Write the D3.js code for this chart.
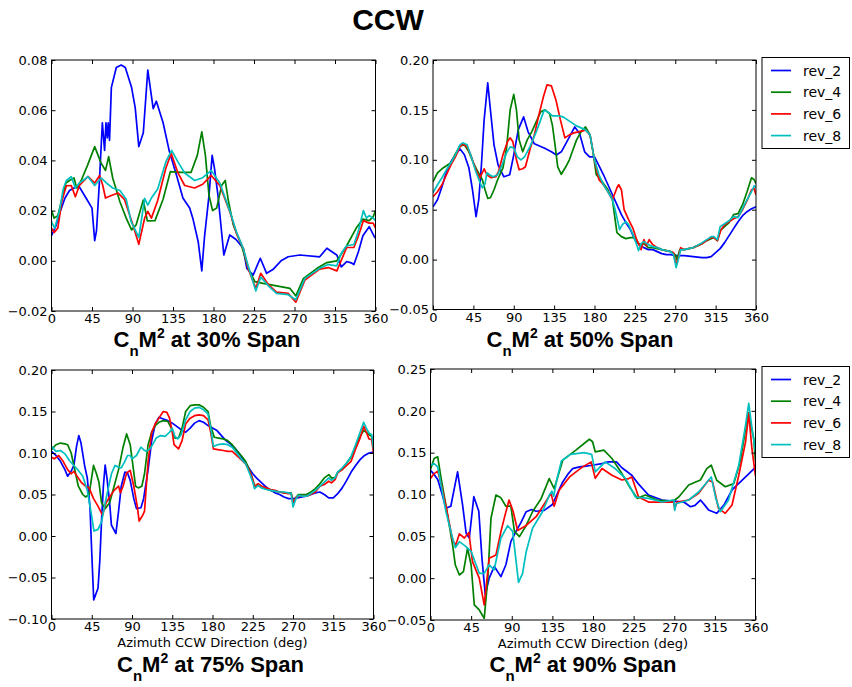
<!DOCTYPE html>
<html><head><meta charset="utf-8">
<script src="https://cdn.jsdelivr.net/npm/d3@7"></script>
<style>body{margin:0;background:#fff}svg{display:block}</style>
</head><body>
<svg id="chart" width="852" height="687"></svg>
<script>
// ---------------- DATA ----------------
const seriesNames = ["rev_2","rev_4","rev_6","rev_8"];
const seriesColors = ["#0000ff","#008000","#ff0000","#00bfbf"];
const xTicks = [0,45,90,135,180,225,270,315,360];
const yTicks30 = [-0.02,0.00,0.02,0.04,0.06,0.08];
const yTicks50 = [-0.05,0.00,0.05,0.10,0.15,0.20];
const yTicks75 = [-0.10,-0.05,0.00,0.05,0.10,0.15,0.20];
const yTicks90 = [-0.05,0.00,0.05,0.10,0.15,0.20,0.25];
const spanLabels = ["30%","50%","75%","90%"];
const figTitle = "CCW";
const xAxisLabel = "Azimuth CCW Direction (deg)";

// [azimuth deg, CnM^2]
const span30_rev2 = [[0,0.010],[5,0.014],[10,0.020],[15,0.025],[20,0.028],[25,0.029],[30,0.030],[35,0.027],[40,0.024],[45,0.021],[48,0.008],[50,0.012],[53,0.030],[56.5,0.055],[59,0.044],[60.5,0.055],[62,0.049],[63,0.055],[64.5,0.048],[66.5,0.069],[72,0.077],[77.5,0.078],[82,0.077],[89,0.069],[93,0.061],[97,0.0455],[102,0.051],[107,0.076],[113,0.0606],[116.5,0.0636],[124,0.055],[131,0.0435],[139,0.034],[146,0.025],[153.5,0.021],[157,0.017],[163,0.0076],[167,-0.004],[170,0.0095],[175,0.026],[178.5,0.042],[181,0.037],[185,0.026],[191.5,0.0023],[198,0.0103],[205,0.0085],[213,0.005],[217,-0.003],[224,-0.0057],[232,0.001],[239,-0.005],[246,-0.0035],[255,0.000],[263,0.0016],[276,0.0023],[298,0.0016],[306,0.005],[312,0.0035],[317,0.0023],[322,-0.0024],[328,-0.0003],[333,-0.0008],[336,-0.0015],[341,0.0036],[346,0.010],[353,0.0136],[358.7,0.0096],[360,0.009]];
const span30_rev4 = [[0,0.020],[3,0.017],[7,0.018],[12,0.025],[16,0.031],[20,0.032],[25,0.033],[28,0.029],[33,0.032],[40,0.038],[48,0.0455],[55,0.039],[60,0.036],[63.5,0.0415],[68,0.033],[76,0.0235],[83,0.017],[89,0.0123],[94,0.0143],[102,0.0242],[106.5,0.0159],[115,0.016],[124,0.0245],[132,0.0355],[144,0.0352],[155,0.0352],[162,0.042],[167,0.0514],[171,0.042],[175,0.026],[179,0.020],[183.5,0.021],[189,0.030],[193,0.032],[196.5,0.024],[202,0.0143],[211,0.0063],[218.5,-0.003],[226,-0.0083],[235,-0.009],[250,-0.010],[265,-0.011],[271.5,-0.014],[280,-0.007],[295,-0.003],[306,-0.0007],[317,0.000],[328,0.006],[339,0.0133],[346,0.0166],[353,0.016],[357.5,0.0176],[360,0.020]];
const span30_rev6 = [[0,0.013],[3,0.0113],[7,0.013],[11.5,0.0238],[16.5,0.0299],[22,0.030],[26.5,0.0255],[31,0.030],[40.5,0.0336],[48,0.031],[53.5,0.034],[57,0.030],[60,0.025],[66.5,0.026],[74,0.027],[81,0.0245],[90.5,0.0143],[97,0.0066],[103.5,0.017],[107,0.0197],[111,0.017],[118,0.024],[127,0.0369],[133,0.0428],[140.5,0.035],[148,0.030],[159,0.029],[168,0.0305],[177.5,0.034],[187,0.030],[198,0.0197],[206,0.0104],[213,0.005],[218.5,-0.003],[227,-0.011],[232.5,-0.005],[241,-0.0095],[250,-0.0125],[263,-0.013],[271.5,-0.0165],[281.5,-0.0077],[298,-0.0033],[307.5,-0.0027],[317,-0.004],[328,0.0053],[336,0.0053],[341,0.0099],[346.5,0.016],[353,0.015],[357.5,0.015],[360,0.013]];
const span30_rev8 = [[0,0.0156],[3.5,0.013],[9,0.020],[13,0.0286],[16.5,0.032],[22,0.0335],[26.5,0.029],[31,0.031],[40.5,0.0335],[48,0.030],[55,0.033],[61,0.031],[68,0.029],[76,0.028],[83,0.0245],[88.5,0.0156],[97,0.0093],[103.5,0.0249],[107,0.0222],[111,0.025],[118,0.0286],[127,0.0394],[133.5,0.044],[140.5,0.0394],[148,0.035],[159,0.032],[168,0.0331],[177.5,0.036],[187,0.031],[198,0.020],[206,0.011],[213,0.005],[218.5,-0.002],[227,-0.012],[232.5,-0.0065],[241,-0.010],[250,-0.013],[263,-0.0135],[271.5,-0.0155],[281.5,-0.007],[298,-0.003],[307.5,-0.0015],[317,-0.002],[322,0.003],[328,0.006],[336,0.0065],[341,0.012],[346.5,0.020],[350,0.017],[353,0.018],[357.5,0.017],[360,0.016]];

const span50_rev2 = [[0,0.053],[5,0.060],[10,0.073],[15,0.088],[20,0.098],[25,0.105],[30,0.111],[35,0.105],[40,0.092],[44,0.070],[48,0.043],[51,0.060],[54,0.095],[57,0.140],[61,0.177],[64,0.150],[68,0.115],[72.5,0.095],[79,0.083],[85.5,0.085],[90,0.105],[95,0.130],[101,0.143],[106,0.128],[113,0.116],[124.5,0.1115],[132,0.108],[137.5,0.1048],[143,0.108],[148.5,0.117],[158,0.133],[163.5,0.126],[169,0.108],[174.5,0.103],[180,0.103],[184,0.096],[190,0.085],[195,0.075],[200,0.065],[205,0.055],[210,0.045],[215,0.037],[220,0.030],[225,0.020],[230,0.015],[235,0.012],[240,0.010],[245,0.010],[250,0.008],[255,0.006],[260,0.005],[265,0.005],[270,0.004],[280,0.004],[290,0.003],[300,0.002],[305,0.002],[310,0.003],[315,0.007],[320,0.011],[325,0.017],[330,0.024],[335,0.031],[340,0.038],[345,0.044],[350,0.048],[355,0.051],[360,0.053]];
const span50_rev4 = [[0,0.078],[5,0.087],[10,0.091],[15,0.094],[20,0.097],[25,0.106],[30,0.114],[35,0.115],[40,0.108],[45,0.097],[50,0.088],[55,0.080],[58,0.070],[61,0.0614],[64,0.062],[68,0.070],[72,0.080],[78,0.092],[82,0.112],[86,0.150],[90,0.1656],[93,0.150],[96,0.120],[100,0.108],[105,0.120],[110,0.128],[115,0.138],[120,0.148],[125,0.150],[130,0.146],[133,0.135],[136,0.115],[139,0.093],[143,0.0855],[148,0.093],[152,0.100],[156,0.110],[160,0.120],[165,0.128],[170,0.133],[175,0.125],[178,0.110],[182,0.085],[187,0.080],[195,0.070],[200,0.060],[203,0.040],[205,0.027],[210,0.023],[215,0.021],[220,0.022],[225,0.022],[230,0.015],[235,0.016],[240,0.012],[245,0.012],[250,0.011],[255,0.010],[260,0.009],[265,0.008],[270,0.005],[272,0.000],[275,0.010],[280,0.010],[290,0.012],[300,0.016],[305,0.019],[310,0.021],[313,0.022],[317,0.019],[320,0.029],[325,0.033],[330,0.037],[335,0.045],[340,0.046],[345,0.055],[350,0.068],[355,0.082],[358,0.080],[360,0.076]];
const span50_rev6 = [[0,0.063],[5,0.068],[10,0.075],[15,0.085],[20,0.095],[25,0.103],[30,0.113],[33,0.116],[38,0.113],[42,0.105],[47,0.092],[52,0.082],[55,0.087],[57,0.091],[60,0.085],[65,0.082],[70,0.083],[73,0.088],[78,0.105],[83,0.118],[86,0.122],[89,0.118],[93,0.100],[96,0.090],[100,0.091],[103,0.093],[108,0.110],[113,0.125],[118,0.145],[123,0.163],[127,0.175],[132,0.174],[137,0.160],[142,0.140],[147,0.122],[152,0.125],[157,0.127],[162,0.128],[167,0.129],[170,0.130],[175,0.125],[180,0.100],[185,0.080],[190,0.075],[195,0.068],[200,0.060],[205,0.072],[207,0.075],[210,0.070],[213,0.050],[218,0.040],[223,0.031],[227,0.020],[232,0.010],[235,0.020],[238,0.014],[241,0.020],[245,0.015],[250,0.012],[255,0.010],[260,0.009],[265,0.008],[268,0.007],[271,-0.005],[273,0.000],[276,0.012],[280,0.010],[290,0.012],[300,0.016],[305,0.019],[310,0.022],[313,0.022],[317,0.019],[321,0.030],[325,0.035],[330,0.038],[335,0.041],[340,0.043],[345,0.050],[350,0.059],[355,0.070],[358,0.071],[360,0.065]];
const span50_rev8 = [[0,0.067],[5,0.075],[10,0.082],[15,0.090],[20,0.097],[25,0.105],[30,0.115],[33,0.117],[38,0.115],[42,0.105],[47,0.090],[52,0.078],[55,0.072],[58,0.076],[60,0.087],[63,0.085],[67,0.083],[72,0.085],[77,0.095],[82,0.107],[86,0.113],[90,0.112],[94,0.103],[98,0.100],[102,0.103],[108,0.113],[115,0.128],[120,0.140],[124,0.150],[128,0.148],[133,0.144],[140,0.144],[145,0.143],[150,0.140],[155,0.137],[160,0.134],[165,0.132],[170,0.130],[175,0.125],[180,0.100],[185,0.085],[190,0.075],[195,0.068],[200,0.060],[203,0.050],[205,0.042],[208,0.030],[211,0.035],[215,0.038],[218,0.035],[223,0.025],[227,0.015],[229,0.009],[232,0.016],[235,0.018],[240,0.015],[245,0.013],[250,0.012],[255,0.010],[260,0.009],[265,0.008],[268,0.005],[271,-0.008],[274,0.002],[276,0.010],[280,0.010],[290,0.012],[300,0.017],[305,0.020],[310,0.023],[313,0.023],[317,0.020],[320,0.033],[325,0.036],[330,0.039],[335,0.043],[340,0.042],[345,0.051],[350,0.060],[355,0.068],[358,0.074],[360,0.072]];

const span75_rev2 = [[0,0.102],[5,0.097],[10,0.090],[15,0.080],[18,0.072],[22,0.078],[25,0.085],[28,0.108],[30.5,0.121],[33,0.112],[37,0.085],[40,0.070],[43,0.035],[45,-0.020],[47.2,-0.077],[52,-0.063],[54,-0.030],[56,0.020],[58,0.060],[60,0.0855],[62,0.070],[65,0.040],[67,0.013],[72,0.003],[75,0.030],[78,0.060],[82,0.077],[85,0.076],[88,0.067],[92,0.045],[95,0.033],[100,0.034],[103,0.045],[108,0.080],[112,0.115],[116,0.135],[120,0.143],[125,0.141],[130,0.139],[135,0.136],[140,0.132],[145,0.128],[150,0.125],[155,0.130],[160,0.136],[165,0.139],[170,0.137],[175,0.133],[180,0.130],[185,0.127],[190,0.121],[195,0.115],[200,0.111],[205,0.106],[210,0.099],[215,0.091],[220,0.083],[225,0.075],[230,0.069],[235,0.064],[240,0.059],[245,0.055],[250,0.052],[255,0.050],[260,0.047],[265,0.045],[270,0.045],[275,0.046],[280,0.047],[285,0.048],[290,0.050],[295,0.052],[300,0.053],[305,0.050],[310,0.046],[315,0.046],[320,0.051],[325,0.058],[330,0.067],[335,0.077],[340,0.085],[345,0.092],[350,0.097],[355,0.100],[360,0.101]];
const span75_rev4 = [[0,0.104],[5,0.110],[10,0.112],[15,0.111],[18,0.110],[22,0.100],[25,0.085],[30,0.060],[35,0.050],[38,0.047],[42,0.050],[47,0.085],[50,0.076],[53,0.065],[56,0.040],[60,0.033],[65,0.040],[70,0.060],[75,0.080],[80,0.107],[84,0.123],[88,0.110],[91,0.085],[94,0.060],[97,0.058],[101,0.060],[104,0.075],[108,0.110],[112,0.125],[116,0.133],[120,0.137],[125,0.139],[130,0.138],[134,0.130],[138,0.118],[142,0.118],[146,0.130],[150,0.150],[155,0.157],[160,0.158],[165,0.158],[170,0.155],[175,0.150],[178,0.132],[182,0.119],[187,0.118],[192,0.117],[197,0.115],[202,0.110],[207,0.103],[212,0.097],[217,0.090],[222,0.078],[225,0.068],[227,0.060],[230,0.062],[235,0.058],[240,0.057],[245,0.055],[250,0.054],[255,0.053],[260,0.052],[265,0.052],[268,0.052],[270,0.040],[273,0.046],[276,0.050],[280,0.050],[285,0.050],[290,0.053],[295,0.057],[300,0.063],[305,0.070],[310,0.074],[313,0.070],[317,0.070],[320,0.077],[325,0.080],[330,0.088],[335,0.095],[340,0.108],[345,0.120],[349,0.127],[352,0.125],[355,0.122],[358,0.120],[360,0.104]];
const span75_rev6 = [[0,0.095],[3,0.093],[8,0.097],[13,0.090],[18,0.080],[22,0.075],[25,0.078],[28,0.073],[33,0.065],[38,0.060],[42,0.058],[47,0.045],[52,0.036],[57,0.025],[61,0.040],[65,0.047],[70,0.055],[75,0.060],[77,0.052],[80,0.060],[84,0.076],[88,0.079],[92,0.060],[96,0.035],[98,0.018],[102,0.025],[104,0.030],[108,0.090],[112,0.125],[116,0.135],[120,0.142],[125,0.150],[129,0.149],[132,0.142],[135,0.125],[137,0.110],[142,0.105],[146,0.115],[150,0.135],[155,0.142],[160,0.145],[165,0.146],[170,0.145],[175,0.140],[178,0.125],[181,0.105],[186,0.104],[192,0.103],[197,0.102],[202,0.102],[207,0.097],[212,0.092],[217,0.087],[222,0.077],[225,0.068],[227,0.059],[231,0.063],[235,0.060],[240,0.058],[245,0.056],[250,0.055],[255,0.053],[260,0.052],[265,0.051],[268,0.051],[270,0.040],[274,0.047],[278,0.048],[285,0.048],[290,0.050],[295,0.053],[300,0.060],[305,0.062],[310,0.066],[313,0.064],[317,0.068],[320,0.076],[325,0.080],[330,0.085],[335,0.090],[340,0.105],[345,0.118],[349,0.132],[352,0.125],[355,0.117],[358,0.116],[360,0.100]];
const span75_rev8 = [[0,0.108],[5,0.102],[10,0.103],[15,0.099],[20,0.091],[25,0.085],[30,0.079],[35,0.072],[40,0.055],[44,0.030],[47.5,0.006],[52,0.008],[56,0.017],[60,0.040],[63,0.055],[67,0.075],[71,0.085],[75,0.083],[78,0.082],[82,0.090],[85,0.097],[88,0.097],[90,0.093],[95,0.097],[100,0.107],[103,0.104],[106,0.102],[110,0.105],[113,0.110],[117,0.118],[122,0.121],[127,0.120],[132,0.125],[135,0.130],[138,0.120],[141,0.117],[145,0.122],[150,0.140],[155,0.150],[160,0.154],[165,0.155],[170,0.152],[175,0.147],[178,0.130],[181,0.108],[186,0.110],[192,0.111],[197,0.110],[202,0.107],[207,0.100],[212,0.093],[217,0.087],[222,0.074],[225,0.065],[227,0.057],[231,0.061],[235,0.058],[240,0.056],[245,0.055],[250,0.054],[255,0.053],[260,0.053],[265,0.052],[268,0.051],[270,0.035],[273,0.044],[276,0.049],[280,0.048],[285,0.048],[290,0.051],[295,0.055],[300,0.060],[305,0.065],[310,0.070],[313,0.067],[317,0.070],[320,0.077],[325,0.082],[330,0.088],[335,0.096],[340,0.110],[345,0.125],[349,0.137],[352,0.130],[355,0.124],[358,0.122],[360,0.105]];

const span90_rev2 = [[0,0.129],[4,0.124],[8,0.118],[13,0.100],[17,0.0835],[22.5,0.086],[30,0.127],[35.5,0.088],[39.5,0.0536],[43,0.048],[48,0.0974],[53.5,0.080],[57,0.0237],[60.7,-0.020],[65,0.000],[70.7,0.014],[78,0.0018],[83.5,0.016],[89,0.0436],[94.7,0.056],[100,0.066],[106,0.0794],[112,0.082],[117,0.080],[126,0.081],[135,0.088],[140,0.100],[146.5,0.115],[152,0.124],[157.5,0.131],[165,0.133],[172.5,0.134],[179,0.135],[190,0.137],[197,0.139],[206,0.139],[212,0.132],[223,0.123],[230,0.113],[241.5,0.0994],[256.5,0.0934],[269.5,0.092],[280.5,0.091],[288,0.0854],[293,0.087],[299,0.0934],[304,0.087],[308,0.0814],[317,0.0775],[325,0.0874],[334,0.1054],[347,0.119],[358.5,0.131],[360,0.133]];
const span90_rev4 = [[0,0.130],[4,0.143],[8,0.145],[11.5,0.121],[17,0.0874],[24.5,0.0396],[27.5,0.0157],[32,0.0038],[36.5,0.0078],[41,0.0357],[45,0.0157],[48.5,-0.032],[54,-0.038],[59.5,-0.048],[63.5,0.000],[67,0.0716],[72.5,0.0994],[78,0.096],[83.5,0.086],[89,0.086],[93,0.056],[98.5,0.0496],[106,0.063],[113,0.0794],[122.5,0.095],[131.5,0.119],[137,0.107],[146.5,0.141],[161,0.153],[176,0.166],[179.5,0.163],[182.5,0.151],[192,0.153],[201,0.143],[212,0.125],[221.5,0.1074],[229,0.0954],[238,0.0994],[251,0.0934],[264,0.092],[270.5,0.0934],[275,0.097],[286,0.1113],[299,0.1173],[306,0.131],[311,0.135],[317,0.117],[326.5,0.1093],[336,0.113],[343,0.139],[352,0.198],[358,0.167],[360,0.139]];
const span90_rev6 = [[0,0.119],[4,0.125],[8,0.128],[12,0.112],[17,0.087],[24.5,0.045],[28,0.0396],[32,0.053],[37.5,0.048],[42.5,0.0546],[46.5,0.0197],[54,0.000],[59.5,-0.032],[65,0.0237],[72.5,0.0277],[78,0.0556],[82.5,0.075],[87,0.0934],[91.5,0.080],[96.5,0.057],[106,0.063],[117,0.0735],[128,0.092],[133.5,0.1016],[137,0.086],[142.5,0.105],[154,0.121],[168.5,0.133],[178,0.139],[182.5,0.1193],[190,0.131],[201,0.123],[212,0.1173],[219.5,0.119],[223,0.121],[230.5,0.097],[241.5,0.091],[256.5,0.091],[269.5,0.091],[270.5,0.083],[273,0.091],[286,0.0934],[297,0.1014],[308,0.117],[312.5,0.115],[319,0.0835],[326.5,0.0775],[334,0.0874],[341.5,0.123],[349,0.163],[352.5,0.197],[356,0.155],[360,0.122]];
const span90_rev8 = [[0,0.135],[4,0.137],[8,0.133],[12,0.110],[17,0.080],[24.5,0.0476],[27.5,0.0364],[32,0.0436],[39,0.038],[45,0.032],[54,0.0058],[59.5,0.0058],[65,0.016],[70.5,0.010],[78,0.048],[85.5,0.0627],[91,0.056],[97.5,-0.005],[102,0.0058],[106,0.0316],[113,0.0596],[124,0.0794],[132,0.100],[134.5,0.104],[136.5,0.098],[140,0.118],[145,0.140],[155,0.148],[170,0.150],[178.5,0.148],[182.5,0.127],[193.5,0.139],[204.5,0.131],[216,0.1193],[227,0.097],[241.5,0.0954],[256.5,0.091],[269.5,0.0934],[270.5,0.081],[272,0.089],[286,0.0934],[297,0.103],[308,0.117],[311,0.121],[316,0.0954],[321,0.0794],[330,0.093],[341.5,0.135],[349,0.183],[352.5,0.209],[356,0.180],[360,0.151]];

// ---------------- LAYOUT ----------------
const panels = [
  {l:51.5, r:375.5, t:60,  b:311,   yTicks:yTicks30, data:[span30_rev2,span30_rev4,span30_rev6,span30_rev8], span:spanLabels[0], tx:207, ty:347, legend:false, xlab:false},
  {l:433,  r:756,   t:60,  b:309.5, yTicks:yTicks50, data:[span50_rev2,span50_rev4,span50_rev6,span50_rev8], span:spanLabels[1], tx:580, ty:347, legend:true,  xlab:false},
  {l:51.5, r:373.5, t:370, b:619,   yTicks:yTicks75, data:[span75_rev2,span75_rev4,span75_rev6,span75_rev8], span:spanLabels[2], tx:210.5, ty:672, legend:false, xlab:true},
  {l:430.5,r:755.5, t:369, b:620,   yTicks:yTicks90, data:[span90_rev2,span90_rev4,span90_rev6,span90_rev8], span:spanLabels[3], tx:583, ty:672, legend:true,  xlab:true}
];

const svg = d3.select("#chart");
const tickFont = "DejaVu Sans, Liberation Sans, sans-serif";
const titleFont = "Liberation Sans, Arial, sans-serif";
const fmt = d3.format(".2f");

svg.append("text").attr("x",388).attr("y",30).attr("text-anchor","middle")
  .attr("font-family",titleFont).attr("font-weight","bold").attr("font-size",30)
  .attr("fill","#000").text(figTitle);

panels.forEach((p,pi)=>{
  const x = d3.scaleLinear().domain([0,360]).range([p.l,p.r]);
  const yd = d3.extent(p.yTicks);
  const y = d3.scaleLinear().domain(yd).range([p.b,p.t]);
  const g = svg.append("g");

  const cid = "clip"+pi;
  svg.append("clipPath").attr("id",cid).append("rect")
    .attr("x",p.l).attr("y",p.t).attr("width",p.r-p.l).attr("height",p.b-p.t);

  const line = d3.line().x(d=>x(d[0])).y(d=>y(d[1]));
  const lg = g.append("g").attr("clip-path",`url(#${cid})`);
  p.data.forEach((s,i)=>{
    lg.append("path").datum(s).attr("d",line)
      .attr("fill","none").attr("stroke",seriesColors[i])
      .attr("stroke-width",1.7).attr("stroke-linejoin","round");
  });

  // axes: ticks inward on all four sides
  const axB = d3.axisBottom(x).tickValues(xTicks).tickSizeInner(-4).tickSizeOuter(0).tickPadding(3).tickFormat(d3.format("d"));
  const axT = d3.axisTop(x).tickValues(xTicks).tickSizeInner(-4).tickSizeOuter(0).tickFormat("");
  const axL = d3.axisLeft(y).tickValues(p.yTicks).tickSizeInner(-4).tickSizeOuter(0).tickPadding(4).tickFormat(fmt);
  const axR = d3.axisRight(y).tickValues(p.yTicks).tickSizeInner(-4).tickSizeOuter(0).tickFormat("");
  [[axB,`translate(0,${p.b})`],[axT,`translate(0,${p.t})`],[axL,`translate(${p.l},0)`],[axR,`translate(${p.r},0)`]].forEach(([ax,tr])=>{
    const a = g.append("g").attr("transform",tr).call(ax);
    a.select(".domain").remove();
    a.selectAll("line").attr("stroke","#000");
    a.selectAll("text").attr("font-family",tickFont).attr("font-size",13).attr("fill","#000");
  });

  g.append("rect").attr("x",p.l).attr("y",p.t).attr("width",p.r-p.l).attr("height",p.b-p.t)
    .attr("fill","none").attr("stroke","#000").attr("stroke-width",1);

  if(p.xlab){
    g.append("text").attr("x",(p.l+p.r)/2).attr("y",p.b+28).attr("text-anchor","middle")
      .attr("font-family",tickFont).attr("font-size",13).attr("fill","#000").text(xAxisLabel);
  }

  // subplot title  C_n M^2 at xx% Span
  const t = g.append("text").attr("x",p.tx).attr("y",p.ty).attr("text-anchor","middle")
    .attr("font-family",titleFont).attr("font-weight","bold").attr("font-size",22).attr("fill","#000");
  t.append("tspan").text("C");
  t.append("tspan").attr("dy",9).attr("font-size",15).text("n");
  t.append("tspan").attr("dy",-9).text("M");
  t.append("tspan").attr("dy",-9).attr("font-size",14).text("2");
  t.append("tspan").attr("dy",9).text(" at "+p.span+" Span");

  if(p.legend){
    const bx = 762, by = p.t - 2.5, bw = 87.5, bh = 91;
    const leg = g.append("g");
    leg.append("rect").attr("x",bx).attr("y",by).attr("width",bw).attr("height",bh)
      .attr("fill","#fff").attr("stroke","#000").attr("stroke-width",1);
    seriesNames.forEach((n,i)=>{
      const yy = by + 13 + i*21.7;
      leg.append("line").attr("x1",bx+9).attr("x2",bx+29).attr("y1",yy).attr("y2",yy)
        .attr("stroke",seriesColors[i]).attr("stroke-width",1.7);
      leg.append("text").attr("x",bx+41).attr("y",yy).attr("dy","0.36em")
        .attr("font-family",tickFont).attr("font-size",14).attr("fill","#000").text(n);
    });
  }
});
</script>
</body></html>
